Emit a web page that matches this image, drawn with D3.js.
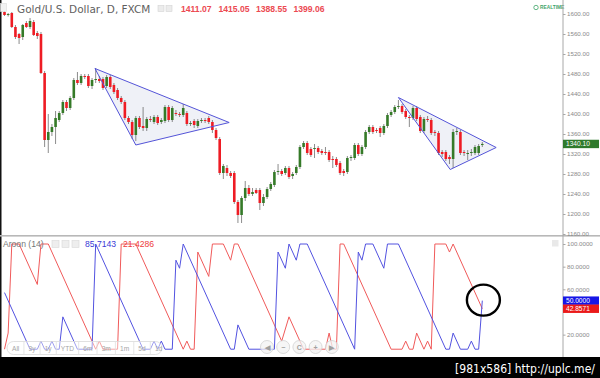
<!DOCTYPE html>
<html>
<head>
<meta charset="utf-8">
<script src="https://cdn.jsdelivr.net/npm/d3@7"></script>
<style>
  html, body { margin: 0; padding: 0; background: #000; }
  svg { display: block; }
</style>
</head>
<body>
<div id="chart"></div>
<script>
// daily bars, Gold/USD (FXCM)
const opens = [1604,1599,1602,1574,1560,1554,1582,1574,1584,1562,1560,1482,1348,1364,1374,1388,1402,1424,1412,1432,
  1468,1462,1476,1476,1456,1468,1470,1470,1456,1474,1458,1448,1432,1424,1392,1384,1358,1392,1376,1372,
  1390,1384,1394,1384,1386,1414,1388,1402,1400,1398,1402,1382,1386,1376,1386,1388,1392,1384,1368,1350,
  1282,1292,1282,1282,1224,1198,1232,1252,1240,1248,1248,1222,1234,1250,1258,1284,1286,1282,1292,1276,
  1282,1294,1334,1342,1330,1330,1332,1326,1324,1324,1310,1310,1302,1286,1284,1312,1312,1338,1320,1334,
  1364,1374,1368,1372,1362,1376,1398,1404,1414,1416,1406,1394,1392,1412,1394,1366,1390,1388,1364,1362,
  1324,1324,1314,1310,1364,1364,1324,1322,1322,1322,1322,1338];
const highs = [1608,1602,1604,1578,1562,1580,1586,1592,1588,1566,1564,1486,1400,1380,1406,1406,1428,1428,1436,1472,
  1484,1480,1480,1480,1472,1492,1476,1474,1478,1478,1462,1452,1436,1428,1396,1388,1396,1396,1414,1394,
  1396,1398,1398,1392,1418,1418,1416,1408,1404,1420,1406,1386,1390,1390,1392,1392,1396,1388,1372,1354,
  1300,1298,1286,1286,1228,1236,1266,1258,1252,1252,1252,1240,1254,1264,1288,1300,1290,1296,1296,1284,
  1298,1338,1346,1346,1334,1340,1336,1330,1334,1328,1316,1314,1306,1290,1316,1318,1342,1342,1338,1368,
  1378,1378,1372,1376,1380,1402,1408,1418,1428,1420,1410,1398,1416,1416,1398,1394,1396,1392,1368,1366,
  1328,1328,1318,1370,1372,1368,1328,1328,1330,1338,1340,1344];
const lows = [1596,1595,1572,1550,1540,1548,1572,1570,1556,1550,1480,1334,1322,1356,1340,1384,1398,1406,1408,1428,
  1458,1458,1470,1452,1450,1462,1462,1448,1452,1450,1440,1428,1420,1388,1380,1350,1346,1370,1366,1366,
  1384,1380,1378,1380,1382,1384,1384,1396,1394,1394,1376,1376,1372,1372,1382,1382,1380,1362,1348,1278,
  1270,1276,1272,1220,1182,1182,1226,1236,1236,1240,1208,1216,1230,1246,1254,1278,1276,1278,1270,1270,
  1278,1290,1330,1318,1314,1312,1320,1318,1318,1304,1292,1294,1278,1276,1280,1306,1308,1316,1316,1330,
  1360,1360,1362,1354,1358,1372,1394,1400,1410,1400,1390,1374,1388,1386,1362,1362,1384,1358,1356,1318,
  1314,1306,1300,1292,1358,1318,1316,1308,1316,1318,1318,1334];
const closes = [1598,1600,1574,1554,1552,1578,1574,1586,1558,1556,1482,1348,1364,1374,1392,1402,1424,1412,1432,1468,
  1462,1476,1474,1456,1468,1470,1466,1452,1474,1454,1444,1432,1424,1392,1384,1358,1392,1374,1372,1390,
  1388,1394,1382,1388,1414,1388,1412,1400,1398,1412,1380,1382,1378,1386,1388,1386,1384,1368,1352,1282,
  1296,1282,1276,1224,1198,1232,1252,1240,1244,1242,1222,1234,1250,1260,1284,1286,1280,1292,1274,1280,
  1294,1334,1342,1322,1318,1332,1324,1322,1322,1308,1308,1298,1282,1282,1312,1314,1338,1320,1334,1364,
  1374,1364,1366,1362,1376,1398,1404,1414,1416,1404,1394,1392,1412,1390,1366,1390,1388,1362,1362,1322,
  1320,1310,1310,1364,1366,1322,1322,1322,1324,1334,1336,1340.10];

// Aroon (14) turning points: [bar, value]
const aroonUp = [[0,57.1],[7,7.14],[9,7.14],[10,14.3],[11,7.14],[12,7.14],[13,14.3],[14,7.14],[15,7.14],[16,35.7],
  [20,7.14],[24,7.14],[25,100],[38,7.14],[40,7.14],[41,14.3],[42,7.14],[43,14.3],[44,7.14],[46,7.14],
  [47,85.7],[48,78.6],[49,100],[62,7.14],[63,7.14],[64,28.6],[67,7.14],[74,7.14],[75,92.9],[77,78.6],
  [78,100],[80,85.7],[81,100],[83,100],[96,7.14],[97,92.9],[98,85.7],[99,100],[101,100],[104,78.6],
  [105,100],[108,100],[121,7.14],[122,7.14],[123,21.4],[125,7.14],[127,7.14],[128,14.3],[129,7.14],[130,7.14],
  [131,50]];
const aroonDown = [[0,7.14],[1,21.4],[2,100],[4,100],[9,64.3],[10,100],[12,100],[25,7.14],[26,14.3],[27,7.14],
  [31,7.14],[32,100],[36,100],[49,7.14],[50,14.3],[51,7.14],[52,7.14],[53,92.9],[56,71.4],[57,100],
  [60,100],[62,85.7],[63,100],[64,100],[76,14.3],[78,35.7],[82,7.14],[88,7.14],[89,21.4],[90,7.14],
  [91,7.14],[92,100],[93,100],[106,7.14],[109,7.14],[110,14.3],[111,7.14],[112,7.14],[113,21.4],[115,7.14],
  [116,14.3],[117,7.14],[118,100],[121,100],[122,92.9],[123,100],[131,42.86]];

// triangle drawings, corners as [bar, price]
const triangleA = [[24.8,1491],[61.6,1383],[36.0,1338]];
const triangleB = [[108.0,1433],[134.8,1333],[122.2,1289]];
// hand-drawn circle on the Aroon pane: centre [bar, value]
const markCircle = [131.3, 50.5];

const priceTicks = [1600,1560,1520,1480,1440,1400,1360,1320,1280,1240,1200,1160];
const aroonTicks = [100,80,60,20];
const headerValues = ["1411.07","1415.05","1388.55","1399.06"];
const aroonHeaderValues = ["85.7143","21.4286"];
const lastPrice = 1340.10;
const lastUp = 50, lastDown = 42.8571;
const rangeButtons = ["All","3y","1y","YTD","6m","3m","1m","5d","1d"];
const navButtons = ["\u25C0","\u2212","C","+","\u25B6"];

class GoldChart {
  constructor(_config) {
    this.config = {
      parentElement: _config.parentElement,
      width: 600,
      height: 378,
      axisX: 563,
      priceBottom: 236,
      aroonTop: 237,
      aroonBottom: 356,
    };
    this.initVis();
  }

  initVis() {
    const vis = this;
    const c = vis.config;

    vis.svg = d3.select(c.parentElement).append("svg")
      .attr("width", c.width)
      .attr("height", c.height)
      .style("font-family", "'Liberation Sans', Arial, sans-serif");

    vis.svg.append("rect").attr("width", c.width).attr("height", 357).attr("fill", "#fff");
    vis.svg.append("rect").attr("width", 1.5).attr("height", 357).attr("fill", "#111");

    const defs = vis.svg.append("defs");
    defs.append("clipPath").attr("id", "clipPrice")
      .append("rect").attr("x", 1.5).attr("y", 0).attr("width", c.axisX - 1.5).attr("height", c.priceBottom);
    defs.append("clipPath").attr("id", "clipAroon")
      .append("rect").attr("x", 1.5).attr("y", c.aroonTop).attr("width", c.axisX - 1.5).attr("height", c.aroonBottom - c.aroonTop);

    vis.x = d3.scaleLinear().domain([0, 131]).range([4.5, 482.3]);
    vis.y = d3.scaleLinear().domain([1160, 1600]).range([234, 14]);
    vis.ya = d3.scaleLinear().domain([0, 100]).range([357.3, 244]);

    vis.renderPrice();
    vis.renderAroon();
    vis.renderAxes();
    vis.renderOverlay();
  }

  renderPrice() {
    const vis = this;
    const g = vis.svg.append("g").attr("clip-path", "url(#clipPrice)");
    const bars = d3.range(opens.length);
    const line = d3.line().x(d => vis.x(d[0])).y(d => vis.y(d[1]));

    // triangle fills under the candles
    [triangleA, triangleB].forEach(t => {
      g.append("path").attr("d", line(t) + "Z")
        .attr("fill", "#eceef6").attr("fill-opacity", 0.85);
    });

    g.selectAll("line.wick").data(bars).join("line")
      .attr("class", "wick")
      .attr("x1", i => vis.x(i)).attr("x2", i => vis.x(i))
      .attr("y1", i => vis.y(highs[i])).attr("y2", i => vis.y(lows[i]))
      .attr("stroke", "#5a5a5a").attr("stroke-width", 0.7);

    g.selectAll("rect.body").data(bars).join("rect")
      .attr("class", "body")
      .attr("x", i => vis.x(i) - 1.3)
      .attr("width", 2.6)
      .attr("y", i => vis.y(Math.max(opens[i], closes[i])))
      .attr("height", i => Math.max(1, Math.abs(vis.y(opens[i]) - vis.y(closes[i]))))
      .attr("fill", i => closes[i] >= opens[i] ? "#357a28" : "#ee1c24");

    [triangleA, triangleB].forEach(t => {
      g.append("path").attr("d", line(t) + "Z")
        .attr("fill", "none").attr("stroke", "#5454d8").attr("stroke-width", 1);
    });

    // header
    vis.svg.append("rect").attr("x", 0.5).attr("y", 3.5).attr("width", 6).attr("height", 8)
      .attr("fill", "#f2f2f2").attr("stroke", "#dcdcdc").attr("stroke-width", 0.6);
    vis.svg.append("text").attr("x", 17).attr("y", 13)
      .style("font-family", "'DejaVu Sans', Verdana, sans-serif")
      .style("font-size", "10.5px").attr("fill", "#5f5f5f")
      .text("Gold/U.S. Dollar, D, FXCM");
    [158, 166].forEach(px => {
      vis.svg.append("rect").attr("x", px).attr("y", 5.5).attr("width", 6).attr("height", 6)
        .attr("fill", "#ececec").attr("stroke", "#d4d4d4").attr("stroke-width", 0.6);
    });
    vis.svg.selectAll("text.hv").data(headerValues).join("text")
      .attr("class", "hv")
      .attr("x", (d, i) => 181 + i * 37.5).attr("y", 12)
      .style("font-size", "8.6px").style("font-weight", "bold")
      .attr("fill", "#ec4a52").text(d => d);

    // realtime badge
    vis.svg.append("circle").attr("cx", 536).attr("cy", 7.5).attr("r", 2.2)
      .attr("fill", "none").attr("stroke", "#3fa46a").attr("stroke-width", 0.8);
    vis.svg.append("text").attr("x", 540).attr("y", 9.3)
      .style("font-size", "4.8px").style("font-weight", "bold")
      .attr("fill", "#3fa46a").text("REALTIME");
  }

  renderAroon() {
    const vis = this;
    const g = vis.svg.append("g").attr("clip-path", "url(#clipAroon)");
    const line = d3.line().x(d => vis.x(d[0])).y(d => vis.ya(d[1]));

    vis.svg.append("rect").attr("x", 0).attr("y", 235).attr("width", 600).attr("height", 1.6)
      .attr("fill", "#b8b8b8");

    g.append("path").attr("d", line(aroonDown))
      .attr("fill", "none").attr("stroke", "#f05a5a").attr("stroke-width", 1);
    g.append("path").attr("d", line(aroonUp))
      .attr("fill", "none").attr("stroke", "#5252e0").attr("stroke-width", 1);

    // black marker circle drawn on the screenshot
    vis.svg.append("ellipse")
      .attr("cx", vis.x(markCircle[0])).attr("cy", vis.ya(markCircle[1]))
      .attr("rx", 16.5).attr("ry", 15.5)
      .attr("fill", "none").attr("stroke", "#000").attr("stroke-width", 2.4);

    vis.svg.append("text").attr("x", 3).attr("y", 247)
      .style("font-size", "8.6px").attr("fill", "#777").text("Aroon (14)");
    [52, 62, 72].forEach(px => {
      vis.svg.append("rect").attr("x", px).attr("y", 240.5).attr("width", 7).attr("height", 7)
        .attr("fill", "#ececec").attr("fill-opacity", 0.9).attr("stroke", "#d8d8d8").attr("stroke-width", 0.6);
    });
    vis.svg.selectAll("text.av").data(aroonHeaderValues).join("text")
      .attr("class", "av")
      .attr("x", (d, i) => 85 + i * 38).attr("y", 247)
      .style("font-size", "8.6px")
      .attr("fill", (d, i) => i === 0 ? "#3b3bd6" : "#ee3b3b").text(d => d);

    vis.svg.append("rect").attr("x", 552).attr("y", 240).attr("width", 6.5).attr("height", 6.5)
      .attr("fill", "#e9e9e9");
  }

  renderAxes() {
    const vis = this;
    const c = vis.config;

    vis.svg.append("line").attr("x1", c.axisX).attr("x2", c.axisX).attr("y1", 0).attr("y2", 357)
      .attr("stroke", "#a8a8a8").attr("stroke-width", 1);

    const styleAxis = sel => {
      sel.select(".domain").remove();
      sel.selectAll(".tick line").attr("stroke", "#a8a8a8");
      sel.selectAll(".tick text").attr("fill", "#8a8a8a").attr("x", 4)
        .style("font-size", "6.2px").style("font-family", "'Liberation Sans', Arial, sans-serif");
    };

    vis.svg.append("g").attr("transform", `translate(${c.axisX},0)`)
      .call(d3.axisRight(vis.y).tickValues(priceTicks).tickSize(2.5).tickFormat(d3.format(".2f")))
      .call(styleAxis);

    vis.svg.append("g").attr("transform", `translate(${c.axisX},0)`)
      .call(d3.axisRight(vis.ya).tickValues(aroonTicks).tickSize(2.5).tickFormat(d3.format(".4f")))
      .call(styleAxis);

    const badge = (value, yPos, fill, label) => {
      vis.svg.append("rect").attr("x", c.axisX).attr("y", yPos - 4.2).attr("width", 36).attr("height", 8.4)
        .attr("fill", fill);
      vis.svg.append("text").attr("x", c.axisX + 3).attr("y", yPos + 2.3)
        .style("font-size", "6.6px").attr("fill", "#fff").text(label);
    };
    badge(lastPrice, vis.y(lastPrice), "#2f7a2c", d3.format(".2f")(lastPrice));
    badge(lastUp, vis.ya(lastUp), "#1616e6", d3.format(".4f")(lastUp));
    badge(lastDown, vis.ya(lastDown), "#ea1a1a", d3.format(".4f")(lastDown));
  }

  renderOverlay() {
    const vis = this;

    // range selector pill
    const pill = vis.svg.append("g");
    pill.append("rect").attr("x", 7).attr("y", 341.5).attr("width", 155).attr("height", 13).attr("rx", 6.5)
      .attr("fill", "#fff").attr("fill-opacity", 0.45).attr("stroke", "#d9d9d9").attr("stroke-width", 0.8);
    let cursor = 12;
    rangeButtons.forEach((lab, i) => {
      const t = pill.append("text").attr("x", cursor).attr("y", 350.5)
        .style("font-size", "6.6px").attr("fill", "#a6a6a6").text(lab);
      const w = t.node().getComputedTextLength();
      cursor += w + 9.2;
      if (i < rangeButtons.length - 1) {
        pill.append("line").attr("x1", cursor - 4.6).attr("x2", cursor - 4.6)
          .attr("y1", 342).attr("y2", 354).attr("stroke", "#e0e0e0").attr("stroke-width", 0.8);
      }
    });

    // navigation buttons
    const nav = vis.svg.append("g");
    navButtons.forEach((lab, i) => {
      const cx = 267 + i * 16.2;
      nav.append("circle").attr("cx", cx).attr("cy", 347).attr("r", 6.5)
        .attr("fill", "#f3f3f3").attr("fill-opacity", 0.75).attr("stroke", "#d2d2d2").attr("stroke-width", 0.8);
      nav.append("text").attr("x", cx).attr("y", 349.6).attr("text-anchor", "middle")
        .style("font-size", "7px").style("font-weight", "bold").attr("fill", "#a0a0a0").text(lab);
    });

    // screenshot host band
    vis.svg.append("rect").attr("x", 0).attr("y", 357).attr("width", 600).attr("height", 21).attr("fill", "#000");
    vis.svg.append("text").attr("x", 455).attr("y", 373)
      .style("font-family", "'DejaVu Sans Condensed', 'DejaVu Sans', sans-serif")
      .style("font-size", "12px").attr("fill", "#fff")
      .attr("textLength", 140).attr("lengthAdjust", "spacingAndGlyphs")
      .text("[981x586] http://uplc.me/");
  }
}

new GoldChart({ parentElement: "#chart" });
</script>
</body>
</html>
